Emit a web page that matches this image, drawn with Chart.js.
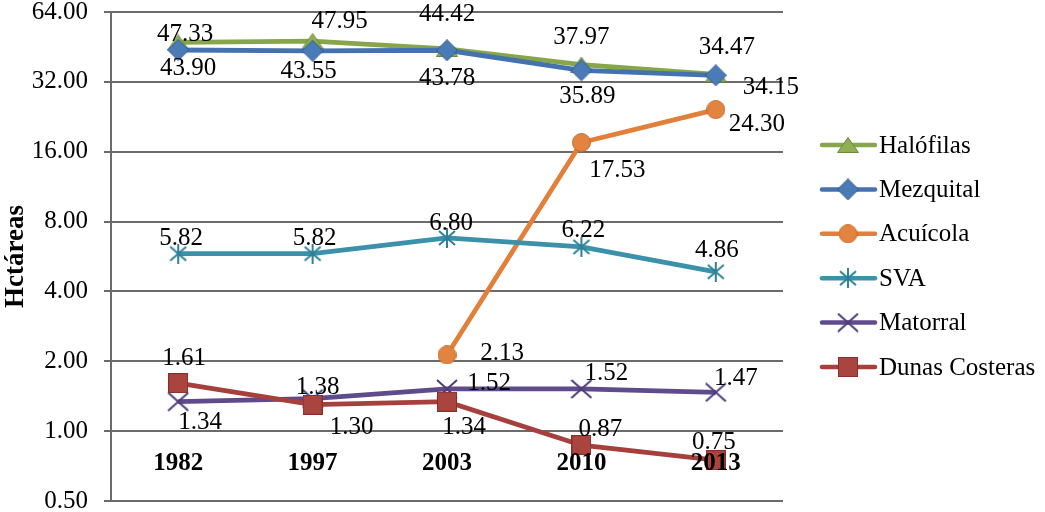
<!DOCTYPE html>
<html>
<head>
<meta charset="utf-8">
<script src="https://cdn.jsdelivr.net/npm/chart.js@4.4.0/dist/chart.umd.min.js"></script>
<style>
  html, body { margin: 0; background: #fff; }
  #wrap { width: 1045px; height: 512px; }
</style>
</head>
<body>
<div id="wrap"><canvas id="chart"></canvas></div>
<script>
// data
var years = ['1982', '1997', '2003', '2010', '2013'];
var halofilas = [47.33, 47.95, 44.42, 37.97, 34.47];
var mezquital = [43.90, 43.55, 43.78, 35.89, 34.15];
var acuicola = [null, null, 2.13, 17.53, 24.30];
var sva = [5.82, 5.82, 6.80, 6.22, 4.86];
var matorral = [1.34, 1.38, 1.52, 1.52, 1.47];
var dunas = [1.61, 1.30, 1.34, 0.87, 0.75];
var yTicks = [0.5, 1, 2, 4, 8, 16, 32, 64];

var FONT = '"Liberation Serif", "Times New Roman", serif';
var GRID = '#6b6b6b';

// where each value label sits relative to its point (px)
var labelShift = {
  'Halófilas': [[7, -9], [27, -21], [0, -35], [0, -28], [11, -28]],
  'Mezquital': [[10, 17], [-4, 20], [0, 27], [6, 25], [55, 11]],
  'Acuícola': [null, null, [55, -3], [36, 27], [41, 14]],
  'SVA': [[3, -16], [2, -16], [4, -16], [2, -17], [1, -22]],
  'Matorral': [[22, 20], [5, -12], [42, -7], [25, -17], [20, -15]],
  'Dunas Costeras': [[6, -26], [39, 22], [17, 25], [19, -17], [-2, -19]]
};

// excel-like markers
function marker(w, h, draw) {
  var c = document.createElement('canvas');
  c.width = w; c.height = h;
  draw(c.getContext('2d'), w, h);
  return c;
}
function triangle(fill, edge) {
  return marker(22, 16, function (g, w, h) {
    g.beginPath();
    g.moveTo(w / 2, 0.5); g.lineTo(w - 0.5, h - 0.5); g.lineTo(0.5, h - 0.5);
    g.closePath();
    g.fillStyle = fill; g.fill();
    g.strokeStyle = edge; g.lineWidth = 1; g.stroke();
  });
}
function diamond(fill, edge) {
  return marker(22, 22, function (g, w, h) {
    g.beginPath();
    g.moveTo(w / 2, 0.5); g.lineTo(w - 0.5, h / 2); g.lineTo(w / 2, h - 0.5); g.lineTo(0.5, h / 2);
    g.closePath();
    g.fillStyle = fill; g.fill();
    g.strokeStyle = edge; g.lineWidth = 1; g.stroke();
  });
}
function circle(fill, edge) {
  return marker(19, 19, function (g, w, h) {
    g.beginPath();
    g.arc(w / 2, h / 2, 9, 0, Math.PI * 2);
    g.fillStyle = fill; g.fill();
    g.strokeStyle = edge; g.lineWidth = 1; g.stroke();
  });
}
function star(col) {
  return marker(20, 20, function (g, w, h) {
    g.strokeStyle = col; g.lineWidth = 2;
    g.beginPath();
    g.moveTo(w / 2, 0); g.lineTo(w / 2, h);
    g.moveTo(2, 3); g.lineTo(w - 2, h - 3);
    g.moveTo(w - 2, 3); g.lineTo(2, h - 3);
    g.stroke();
  });
}
function cross(col) {
  return marker(22, 20, function (g, w, h) {
    g.strokeStyle = col; g.lineWidth = 2;
    g.beginPath();
    g.moveTo(1, 1); g.lineTo(w - 1, h - 1);
    g.moveTo(w - 1, 1); g.lineTo(1, h - 1);
    g.stroke();
  });
}
function square(fill, edge) {
  return marker(20, 20, function (g, w, h) {
    g.fillStyle = fill; g.fillRect(0, 0, w, h);
    g.strokeStyle = edge; g.lineWidth = 1; g.strokeRect(0.5, 0.5, w - 1, h - 1);
  });
}

var series = [
  { label: 'Halófilas', data: halofilas, color: '#87A64B', mark: triangle('#8EB052', '#6E8B39') },
  { label: 'Mezquital', data: mezquital, color: '#4472AE', mark: diamond('#4A7BB7', '#2F5B90') },
  { label: 'Acuícola', data: acuicola, color: '#E27F3B', mark: circle('#E2843F', '#C96A2A') },
  { label: 'SVA', data: sva, color: '#3A91A9', mark: star('#2F8099') },
  { label: 'Matorral', data: matorral, color: '#5F4B8B', mark: cross('#4F3C7A') },
  { label: 'Dunas Costeras', data: dunas, color: '#A5403D', mark: square('#A9443F', '#8A2F2C') }
];

var labelPlugin = {
  id: 'pointLabels',
  afterDatasetsDraw: function (chart) {
    var ctx = chart.ctx;
    ctx.save();
    ctx.fillStyle = '#000';
    ctx.textAlign = 'center';
    ctx.textBaseline = 'middle';
    ctx.font = '25px ' + FONT;
    chart.data.datasets.forEach(function (ds, i) {
      var meta = chart.getDatasetMeta(i);
      var shift = labelShift[ds.label];
      meta.data.forEach(function (pt, j) {
        var v = ds.data[j];
        if (v == null || !shift[j]) return;
        ctx.fillText(v.toFixed(2), pt.x + shift[j][0], pt.y + shift[j][1] + 1);
      });
    });
    // category labels sit where the axis crosses at 1.00
    var xs = chart.scales.x, ys = chart.scales.y;
    ctx.font = 'bold 25px ' + FONT;
    years.forEach(function (yr, j) {
      ctx.fillText(yr, xs.getPixelForValue(j), ys.getPixelForValue(1) + 32);
    });
    ctx.restore();
  }
};

var legendPlugin = {
  id: 'sideLegend',
  afterDraw: function (chart) {
    var ctx = chart.ctx;
    ctx.save();
    ctx.font = '25px ' + FONT;
    ctx.textBaseline = 'middle';
    ctx.textAlign = 'left';
    series.forEach(function (s, i) {
      var y = 145 + i * 44.4;
      ctx.strokeStyle = s.color;
      ctx.lineWidth = 4.5;
      ctx.lineCap = 'round';
      ctx.beginPath();
      ctx.moveTo(822, y); ctx.lineTo(875, y);
      ctx.stroke();
      ctx.drawImage(s.mark, 848 - s.mark.width / 2, y - s.mark.height / 2);
      ctx.fillStyle = '#000';
      ctx.fillText(s.label, 879, y + 1);
    });
    ctx.restore();
  }
};

var ctx = document.getElementById('chart').getContext('2d');
var chart = new Chart(ctx, {
  type: 'line',
  data: {
    labels: years,
    datasets: series.map(function (s, i) {
      return {
        label: s.label,
        data: s.data,
        borderColor: s.color,
        backgroundColor: s.color,
        borderWidth: 4.8,
        pointStyle: s.mark,
        pointRadius: 10,
        pointHoverRadius: 10,
        fill: false,
        tension: 0,
        order: series.length - i
      };
    })
  },
  options: {
    responsive: true,
    maintainAspectRatio: false,
    animation: false,
    devicePixelRatio: 1,
    layout: { autoPadding: false, padding: { left: 0, right: 262, top: 0, bottom: 0 } },
    plugins: {
      legend: { display: false },
      tooltip: { enabled: false }
    },
    scales: {
      x: {
        type: 'category',
        display: false,
        offset: true
      },
      y: {
        type: 'logarithmic',
        min: 0.5,
        max: 64,
        afterBuildTicks: function (s) {
          s.ticks = yTicks.map(function (v) { return { value: v }; });
        },
        afterFit: function (s) {
          s.width = 111;
          s.paddingTop = 12;
          s.paddingBottom = 11;
        },
        ticks: {
          autoSkip: false,
          padding: 16,
          color: '#000',
          font: { family: FONT, size: 25, lineHeight: 0.92 },
          callback: function (v) { return Number(v).toFixed(2); }
        },
        grid: { color: GRID, lineWidth: 2, tickLength: 7, drawTicks: true },
        border: { display: true, color: GRID, width: 2 },
        title: {
          display: true,
          text: 'Hctáreas',
          color: '#000',
          padding: { top: 0, bottom: 0 },
          font: { family: FONT, size: 27, weight: 'bold' }
        }
      }
    }
  },
  plugins: [labelPlugin, legendPlugin]
});
</script>
</body>
</html>
